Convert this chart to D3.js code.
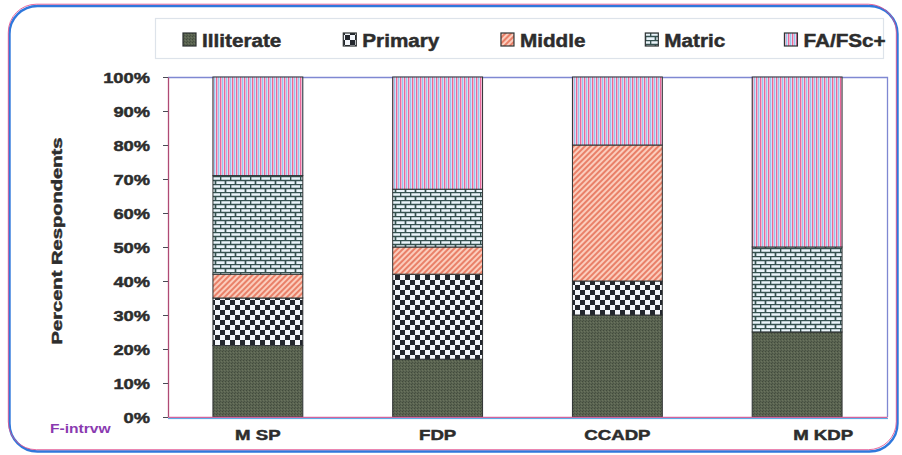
<!DOCTYPE html>
<html>
<head>
<meta charset="utf-8">
<script src="https://cdn.jsdelivr.net/npm/d3@7"></script>
<style>
  body { margin: 0; background: #ffffff; }
  text { font-family: "Liberation Sans", Arial, sans-serif; font-weight: bold; }
  .ink { stroke: #2d2d2d; stroke-width: 0.45px; }
</style>
</head>
<body>
<svg id="chart" width="902" height="455"></svg>
<script>
// Education level of respondents, per programme (percent of respondents)
const categories = ["MSP", "FDP", "CCADP", "MKDP"];
const categoryLabels = ["M SP", "FDP", "CCADP", "M KDP"];
const seriesNames = ["Illiterate", "Primary", "Middle", "Matric", "FA/FSc+"];
const illiterate = [21, 17, 30, 25];
const primary    = [14, 25, 10, 0];
const middle     = [7, 8, 40, 0];
const matric     = [29, 17, 0, 25];
const faFsc      = [29, 33, 20, 50];
const yTicks = [0, 10, 20, 30, 40, 50, 60, 70, 80, 90, 100];
const yTitle = "Percent Respondents";
const sourceNote = "F-intrvw";

const seriesValues = [illiterate, primary, middle, matric, faFsc];
const rows = categories.map((c, i) => {
  const r = { category: c };
  seriesNames.forEach((s, k) => { r[s] = seriesValues[k][i]; });
  return r;
});

const svg = d3.select("#chart");
const plot = { left: 168, right: 887, top: 77, bottom: 417 };

// Stretch text horizontally along its own direction
function stretch(sel, k) {
  sel.each(function () {
    const w = this.getComputedTextLength();
    d3.select(this).attr("textLength", w * k).attr("lengthAdjust", "spacingAndGlyphs");
  });
}

// ---------- fill patterns ----------
const defs = svg.append("defs");

// Illiterate: dark olive grey with a fine grain
const pIll = defs.append("pattern").attr("id", "pat-ill")
  .attr("patternUnits", "userSpaceOnUse").attr("width", 3).attr("height", 3);
pIll.append("rect").attr("width", 3).attr("height", 3).attr("fill", "#5a6451");
pIll.append("rect").attr("x", 0).attr("y", 0).attr("width", 1).attr("height", 1).attr("fill", "#424a3c");
pIll.append("rect").attr("x", 2).attr("y", 1).attr("width", 1).attr("height", 1).attr("fill", "#6b735e");
pIll.append("rect").attr("x", 1).attr("y", 2).attr("width", 1).attr("height", 1).attr("fill", "#495143");

// Primary: checkerboard
const pPri = defs.append("pattern").attr("id", "pat-pri")
  .attr("patternUnits", "userSpaceOnUse").attr("width", 10).attr("height", 10);
pPri.append("rect").attr("width", 10).attr("height", 10).attr("fill", "#f3f6fa");
pPri.append("rect").attr("x", 0).attr("y", 0).attr("width", 5).attr("height", 5).attr("fill", "#23272d");
pPri.append("rect").attr("x", 5).attr("y", 5).attr("width", 5).attr("height", 5).attr("fill", "#23272d");

// Middle: salmon diagonal stripes
const pMid = defs.append("pattern").attr("id", "pat-mid")
  .attr("patternUnits", "userSpaceOnUse").attr("width", 4).attr("height", 4)
  .attr("patternTransform", "rotate(45)");
pMid.append("rect").attr("width", 4).attr("height", 4).attr("fill", "#fbcdbd");
pMid.append("rect").attr("x", 0).attr("width", 2).attr("height", 4).attr("fill", "#e98068");

// Matric: brick pattern
const pMat = defs.append("pattern").attr("id", "pat-mat")
  .attr("patternUnits", "userSpaceOnUse").attr("width", 10).attr("height", 8);
pMat.append("rect").attr("width", 10).attr("height", 8).attr("fill", "#eaf4fa");
pMat.append("path")
  .attr("d", "M0,0.5H10 M0,4.5H10 M0.5,0.5V4.5 M5.5,4.5V8.5")
  .attr("stroke", "#35514f").attr("stroke-width", 1.7).attr("fill", "none");

// FA/FSc+: vertical pink / blue stripes
const pFa = defs.append("pattern").attr("id", "pat-fa")
  .attr("patternUnits", "userSpaceOnUse").attr("width", 4).attr("height", 4);
pFa.append("rect").attr("width", 4).attr("height", 4).attr("fill", "#f8f4f8");
pFa.append("rect").attr("x", 0).attr("width", 1.4).attr("height", 4).attr("fill", "#e8679a");
pFa.append("rect").attr("x", 2).attr("width", 1.4).attr("height", 4).attr("fill", "#98c6ee");

const fills = ["url(#pat-ill)", "url(#pat-pri)", "url(#pat-mid)", "url(#pat-mat)", "url(#pat-fa)"];
const color = d3.scaleOrdinal().domain(seriesNames).range(fills);

// ---------- outer rounded frame ----------
svg.append("rect")
  .attr("x", 9.5).attr("y", 6).attr("width", 888).attr("height", 445.5)
  .attr("rx", 28).attr("fill", "none").attr("stroke", "#2f78dc").attr("stroke-width", 2.4);
svg.append("rect")
  .attr("x", 8.3).attr("y", 4.2).attr("width", 888).attr("height", 445.5)
  .attr("rx", 28).attr("fill", "none").attr("stroke", "#e0508e").attr("stroke-width", 1)
  .attr("opacity", 0.85);

// ---------- scales ----------
const x = d3.scaleBand().domain(categories).range([plot.left, plot.right])
  .paddingInner(0.5).paddingOuter(0.25);
const y = d3.scaleLinear().domain([0, 100]).range([plot.bottom, plot.top]);

// plot frame (top and right)
svg.append("path")
  .attr("d", `M${plot.left},${plot.top + 0.5}H${plot.right + 0.5}V${plot.bottom}`)
  .attr("fill", "none").attr("stroke", "#7f88d2").attr("stroke-width", 1.3);

// ---------- stacked bars ----------
const stack = d3.stack().keys(seriesNames);
const layers = stack(rows);

svg.append("g").selectAll("g")
  .data(layers).join("g")
  .attr("fill", d => color(d.key))
  .selectAll("rect")
  .data(d => d.filter(s => s[1] - s[0] > 0))
  .join("rect")
  .attr("x", d => x(d.data.category))
  .attr("width", x.bandwidth())
  .attr("y", d => y(d[1]))
  .attr("height", d => y(d[0]) - y(d[1]))
  .attr("stroke", "#2e3233").attr("stroke-width", 1);

// ---------- y axis ----------
const yAxis = svg.append("g")
  .attr("transform", `translate(${plot.left},0)`)
  .call(d3.axisLeft(y).tickValues(yTicks).tickFormat(d => d + "%").tickSize(5).tickSizeOuter(0));
yAxis.select(".domain").attr("stroke", "#b04a74").attr("stroke-width", 1.3);
yAxis.selectAll(".tick line").attr("stroke", "#4a4a55");
yAxis.selectAll(".tick text")
  .attr("x", -18).attr("dy", "0.36em")
  .attr("class", "ink")
  .attr("fill", "#2d2d2d").style("font-size", "15px");
stretch(yAxis.selectAll(".tick text"), 1.22);

// ---------- x axis ----------
const xAxis = svg.append("g")
  .attr("transform", `translate(0,${plot.bottom})`)
  .call(d3.axisBottom(x).tickSize(0).tickFormat((d, i) => categoryLabels[i]));
xAxis.select(".domain").attr("stroke", "#d2649c").attr("stroke-width", 1.4);
svg.append("line")
  .attr("x1", plot.left).attr("x2", plot.right + 1)
  .attr("y1", plot.bottom + 1.6).attr("y2", plot.bottom + 1.6)
  .attr("stroke", "#52a6e6").attr("stroke-width", 1);
xAxis.selectAll(".tick text")
  .attr("y", 13).attr("dy", "0.71em")
  .attr("dx", (d, i) => i === categories.length - 1 ? 26 : 0)
  .attr("class", "ink")
  .attr("fill", "#2d2d2d").style("font-size", "14px");
stretch(xAxis.selectAll(".tick text"), 1.33);

// ---------- y title ----------
svg.append("text")
  .attr("transform", `translate(62,${(plot.top + plot.bottom) / 2 - 6}) rotate(-90)`)
  .attr("text-anchor", "middle")
  .attr("class", "ink")
  .attr("fill", "#2d2d2d").style("font-size", "14px")
  .attr("textLength", 207).attr("lengthAdjust", "spacingAndGlyphs")
  .text(yTitle);

// ---------- source note ----------
const sn = svg.append("text")
  .attr("x", 50).attr("y", 433)
  .attr("fill", "#8a3ab0").style("font-size", "12px")
  .text(sourceNote);
stretch(sn, 1.3);

// ---------- legend ----------
svg.append("rect")
  .attr("x", 155.5).attr("y", 18.5).attr("width", 728).attr("height", 40)
  .attr("fill", "#ffffff").attr("stroke", "#dde3ea").attr("stroke-width", 1.2);

const legend = svg.append("g");
let lx = 183;
seriesNames.forEach(name => {
  const g = legend.append("g");
  g.append("rect")
    .attr("x", lx).attr("y", 33).attr("width", 13).attr("height", 13)
    .attr("fill", color(name)).attr("stroke", "#2e3233").attr("stroke-width", 1.2);
  const t = g.append("text")
    .attr("x", lx + 19).attr("y", 46.5)
    .attr("class", "ink")
    .attr("fill", "#2d2d2d").style("font-size", "18px")
    .text(name);
  stretch(t, 1.15);
  lx += 19 + t.node().getComputedTextLength() * 1.15 + 50;
});
</script>
</body>
</html>
